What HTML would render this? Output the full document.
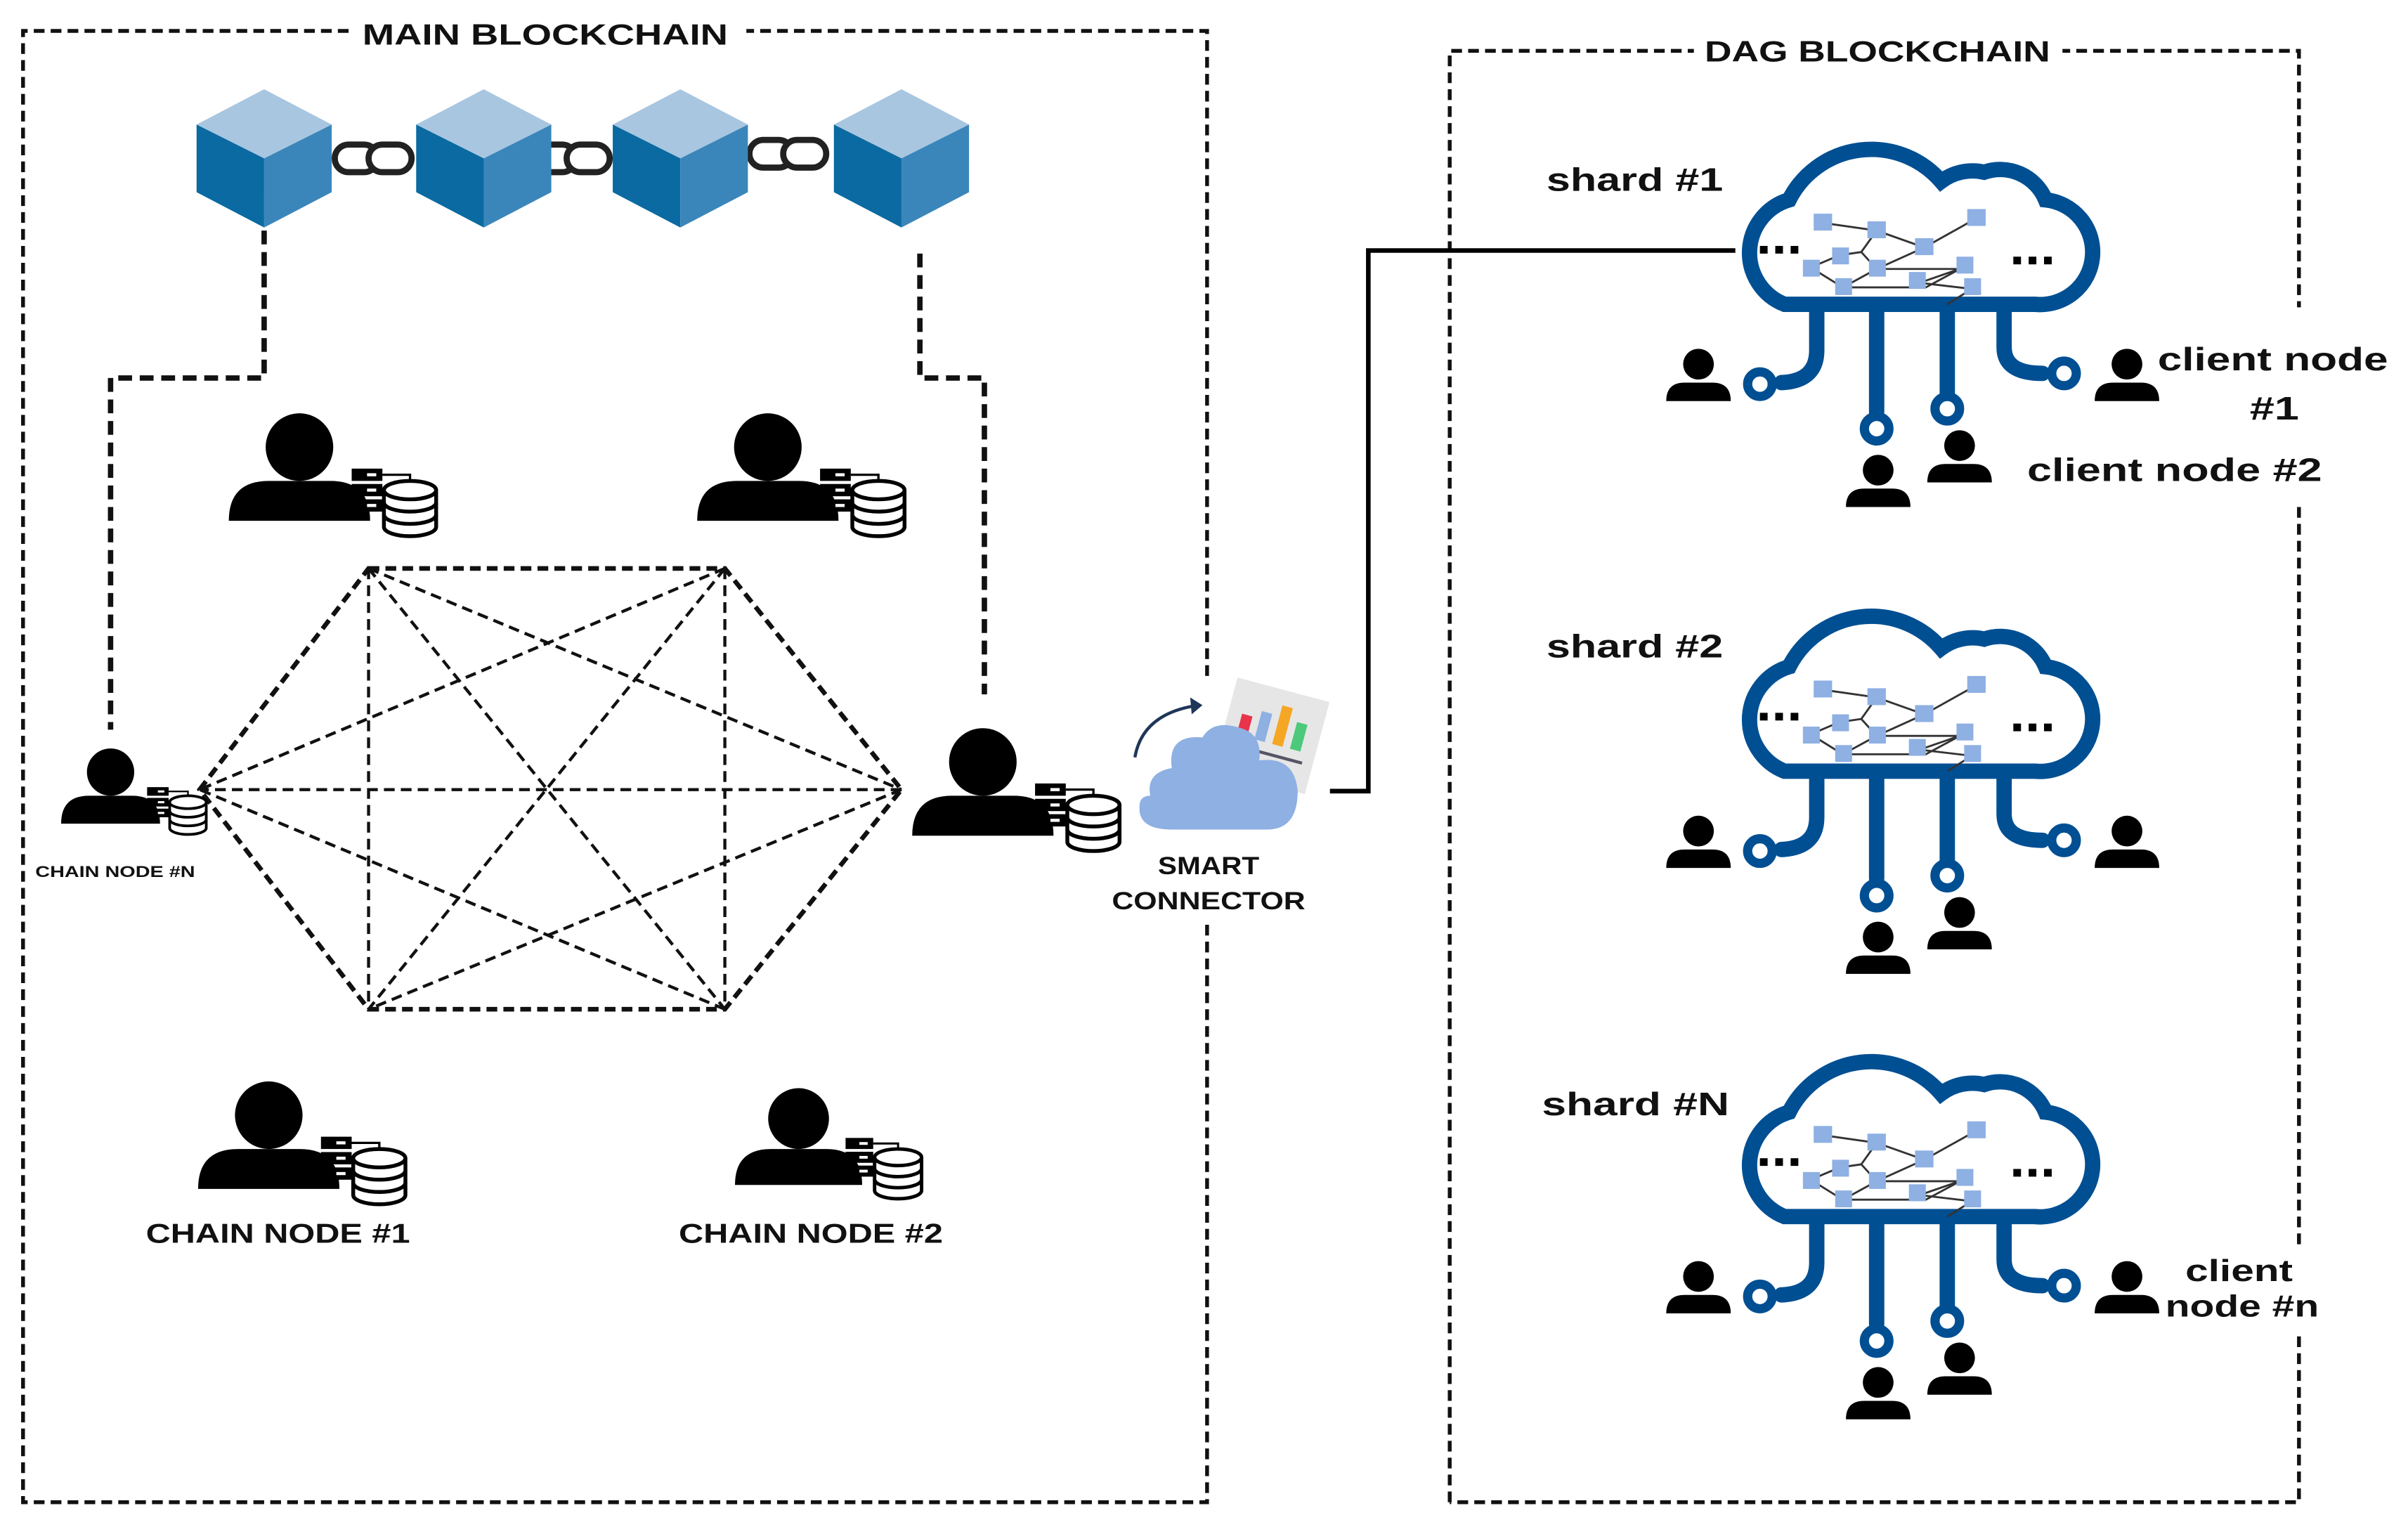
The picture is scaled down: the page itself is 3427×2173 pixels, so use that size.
<!DOCTYPE html>
<html><head><meta charset="utf-8"><style>html,body{margin:0;padding:0;background:#fff}svg{display:block}text{font-family:"Liberation Sans",sans-serif;font-weight:bold;fill:#111}</style></head>
<body>
<svg width="3427" height="2173" viewBox="0 0 1568 994" xmlns="http://www.w3.org/2000/svg">
<defs>
<g id="cube">
<polygon points="0,-45 44,-22 0,0 -44,-22" fill="#a9c6e0"/>
<polygon points="-44,-22 0,0 0,45 -44,22" fill="#0a6aa1"/>
<polygon points="44,-22 0,0 0,45 44,22" fill="#3a86bb"/>
</g>
<g id="link" fill="none" stroke="#222" stroke-width="4">
<rect x="-26" y="-9" width="28" height="18" rx="9" fill="#fff"/>
<rect x="-4" y="-9" width="28" height="18" rx="9" fill="#fff"/>
</g>
<g id="person">
<circle cx="0" cy="-22" r="22" fill="#000"/>
<path d="M-46,26 Q-46,0 -20,0 H20 Q46,0 46,26 Z" fill="#000"/>
<g fill="#000"><rect x="34" y="-8" width="20" height="8"/><rect x="34" y="2" width="20" height="8"/><rect x="34" y="12" width="20" height="8"/></g>
<g fill="#fff"><rect x="44" y="-5" width="6" height="2"/><rect x="44" y="5" width="6" height="2"/><rect x="44" y="15" width="6" height="2"/></g>
<path d="M54,-4 H72 V6" stroke="#000" stroke-width="1.5" fill="none"/>
<g stroke="#000" stroke-width="2.5" fill="#fff">
<path d="M55,6 V30 A17,6 0 0 0 89,30 V6"/>
<ellipse cx="72" cy="6" rx="17" ry="6"/>
<path d="M55,14 A17,6 0 0 0 89,14 M55,22 A17,6 0 0 0 89,22" fill="none"/>
</g>
</g>
<g id="client" fill="#000">
<circle cx="0" cy="-10" r="10"/>
<path d="M-21,14 Q-21,2 -9,2 H9 Q21,2 21,14 Z"/>
</g>
<g id="shard">
<g fill="none" stroke="#004f93" stroke-width="10" stroke-linecap="round">
<path d="M1162,198 H1325 A34,34 0 0 0 1332,130 A32,32 0 0 0 1292,112 A34,34 0 0 0 1264,118 A60,60 0 0 0 1165,130 A36,36 0 0 0 1162,198 Z"/>
<path d="M1183,202 V228 Q1183,248 1160,249"/>
<path d="M1305,202 V226 Q1305,243 1330,243"/>
<path d="M1222,202 V268"/>
<path d="M1268,202 V256"/>
</g>
<g fill="#fff" stroke="#004f93" stroke-width="6">
<circle cx="1146" cy="250" r="8"/><circle cx="1344" cy="243" r="8"/>
<circle cx="1222" cy="279" r="8"/><circle cx="1268" cy="266" r="8"/>
</g>
<g stroke="#333" stroke-width="1.3" fill="none">
<path d="M1187,145 L1222,150 L1212,164 L1222,175 L1200,187 L1254,187 L1280,173"/>
<path d="M1222,150 L1253,161 L1287,142"/>
<path d="M1253,161 L1222,175 L1276,175 L1250,184 L1284,188 L1268,198"/>
<path d="M1198,166 L1179,174 L1200,187"/>
<path d="M1212,164 L1198,166"/>
</g>
<g fill="#8eb0e3">
<rect x="1181" y="139" width="12" height="11"/><rect x="1216" y="144" width="12" height="11"/>
<rect x="1247" y="155" width="12" height="11"/><rect x="1281" y="136" width="12" height="11"/>
<rect x="1193" y="161" width="11" height="11"/><rect x="1174" y="169" width="11" height="11"/>
<rect x="1217" y="169" width="11" height="11"/><rect x="1195" y="181" width="11" height="11"/>
<rect x="1243" y="177" width="11" height="11"/><rect x="1274" y="167" width="11" height="11"/>
<rect x="1279" y="181" width="11" height="11"/>
</g>
<g fill="#000">
<rect x="1146" y="160" width="5" height="5"/><rect x="1156" y="160" width="5" height="5"/><rect x="1166" y="160" width="5" height="5"/>
<rect x="1311" y="167" width="5" height="5"/><rect x="1321" y="167" width="5" height="5"/><rect x="1331" y="167" width="5" height="5"/>
</g>
<use href="#client" x="1106" y="247"/>
<use href="#client" x="1385" y="247"/>
<use href="#client" x="1223" y="316"/>
<use href="#client" x="1276" y="300"/>
</g>
</defs>

<g fill="none" stroke="#111" stroke-width="2.5" stroke-dasharray="7,4">
<path d="M786,440 V20 H15 V978 H786 V600"/>
<path d="M944,978 V33 H1497 V200"/>
<path d="M1497,330 V810"/>
<path d="M1497,870 V978 H944"/>
</g>
<rect x="228" y="8" width="258" height="26" fill="#fff"/>
<text x="236" y="29" font-size="19" textLength="238" lengthAdjust="spacingAndGlyphs">MAIN BLOCKCHAIN</text>
<rect x="1103" y="20" width="240" height="26" fill="#fff"/>
<text x="1110" y="40" font-size="19" textLength="225" lengthAdjust="spacingAndGlyphs">DAG BLOCKCHAIN</text>

<g fill="none" stroke="#111" stroke-width="3.5" stroke-dasharray="9,5">
<path d="M172,150 V246 H72 V475"/>
<path d="M599,165 V246 H641 V452"/>
</g>

<use href="#link" x="244" y="103"/>
<use href="#link" x="373" y="103"/>
<use href="#link" x="514" y="100"/>
<use href="#cube" x="172" y="103"/>
<use href="#cube" x="315" y="103"/>
<use href="#cube" x="443" y="103"/>
<use href="#cube" x="587" y="103"/>

<g stroke="#111" stroke-width="2" stroke-dasharray="7,4" fill="none">
<path d="M240,370 L472,370 L587,514 L472,657 L240,657 L130,514 Z" stroke-width="3"/>
<path d="M240,370 L587,514 M240,370 L472,657 M240,370 L240,657 M472,370 L240,657 M472,370 L130,514 M472,370 L472,657 M587,514 L240,657 M587,514 L130,514 M472,657 L130,514"/>
</g>

<use href="#person" x="195" y="313"/>
<use href="#person" x="500" y="313"/>
<g transform="translate(72,518) scale(0.7)"><use href="#person"/></g>
<use href="#person" x="640" y="518"/>
<use href="#person" x="175" y="748"/>
<g transform="translate(520,748) scale(0.9)"><use href="#person"/></g>
<text x="23" y="571" font-size="10" textLength="104" lengthAdjust="spacingAndGlyphs">CHAIN NODE #N</text>
<text x="95" y="809" font-size="18" textLength="172" lengthAdjust="spacingAndGlyphs">CHAIN NODE #1</text>
<text x="442" y="809" font-size="18" textLength="172" lengthAdjust="spacingAndGlyphs">CHAIN NODE #2</text>

<path d="M866,515 H891 V163 H1130" fill="none" stroke="#000" stroke-width="3"/>
<g transform="rotate(15 828 478)">
<rect x="797" y="448" width="62" height="62" fill="#e6e6e6"/>
<rect x="806" y="470" width="7" height="14" fill="#e8334a"/>
<rect x="818" y="465" width="7" height="19" fill="#8eb0e3"/>
<rect x="830" y="458" width="7" height="26" fill="#f5a623"/>
<rect x="842" y="466" width="7" height="18" fill="#4cc97a"/>
<rect x="804" y="490" width="48" height="2" fill="#556"/>
</g>
<path d="M749,518 Q746,503 763,500 Q760,478 783,480 Q790,468 808,474 Q822,478 820,495 Q843,492 845,515 Q845,540 825,540 H763 Q741,540 742,525 Q742,518 749,518 Z" fill="#8eb0e3"/>
<path d="M739,493 Q744,464 781,459" fill="none" stroke="#1f3658" stroke-width="2"/>
<path d="M775,454 L783,459 L776,465 Z" fill="#1f3658"/>
<text x="754" y="569" font-size="16" textLength="66" lengthAdjust="spacingAndGlyphs">SMART</text>
<text x="724" y="592" font-size="16" textLength="126" lengthAdjust="spacingAndGlyphs">CONNECTOR</text>

<use href="#shard"/>
<use href="#shard" y="304"/>
<use href="#shard" y="594"/>
<text x="1007" y="124" font-size="21" textLength="115" lengthAdjust="spacingAndGlyphs">shard #1</text>
<text x="1007" y="428" font-size="21" textLength="115" lengthAdjust="spacingAndGlyphs">shard #2</text>
<text x="1004" y="726" font-size="21" textLength="122" lengthAdjust="spacingAndGlyphs">shard #N</text>
<text x="1405" y="241" font-size="21" textLength="150" lengthAdjust="spacingAndGlyphs">client node</text>
<text x="1465" y="273" font-size="21" textLength="32" lengthAdjust="spacingAndGlyphs">#1</text>
<text x="1320" y="313" font-size="21" textLength="192" lengthAdjust="spacingAndGlyphs">client node #2</text>
<text x="1423" y="834" font-size="20" textLength="70" lengthAdjust="spacingAndGlyphs">client</text>
<text x="1410" y="857" font-size="20" textLength="100" lengthAdjust="spacingAndGlyphs">node #n</text>
</svg>
</body></html>
